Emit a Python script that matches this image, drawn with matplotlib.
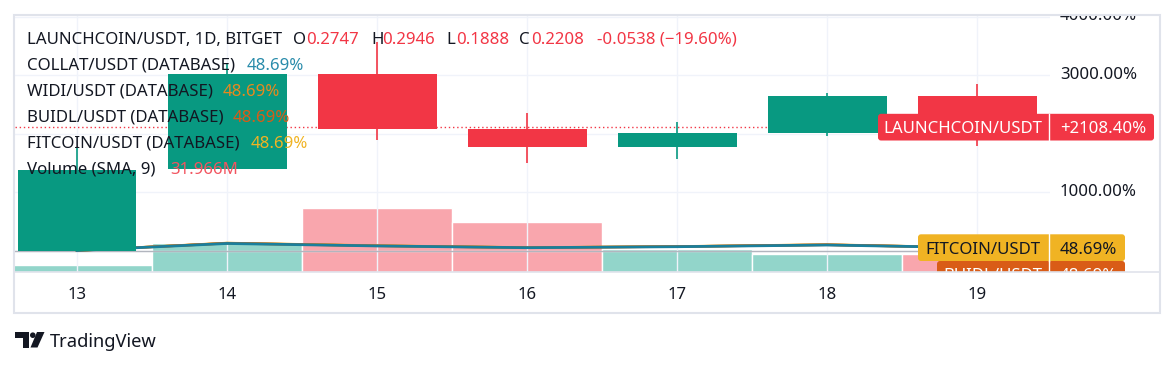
import matplotlib
matplotlib.use("Agg")
import matplotlib.pyplot as plt
from matplotlib.patches import Rectangle, FancyBboxPatch, Polygon, Circle

# ---------------- data ----------------
days = [13, 14, 15, 16, 17, 18, 19]
day_labels = ["13", "14", "15", "16", "17", "18", "19"]
# LAUNCHCOIN/USDT in percent (comparison mode)
opens = [0, 1400, 3017, 2070, 1769, 2009, 2647]
highs = [1769, 3205, 3564, 2350, 2197, 2692, 2846]
lows = [0, 1400, 1889, 1496, 1564, 1957, 1788]
closes = [1380, 3017, 2070, 1769, 2009, 2647, 2108.40]
volumes_m = [8.1, 33.5, 74.0, 57.8, 26.6, 20.8, 20.8]
# comparison symbols (%)
collat = [0, 120, 78, 48, 65, 94, 48.69]
widi = [0, 126, 82, 50, 68, 99, 48.69]
buidl = [0, 124, 80, 49, 67, 97, 48.69]
fitcoin = [0, 128, 83, 51, 69, 101, 48.69]
price_ticks = [0, 1000, 2000, 3000, 4000]
# price-scale labels not hidden behind the last-value labels
price_labels_visible = [1000, 3000, 4000]

# ---------------- style ----------------
UP = "#089981"
DOWN = "#f23645"
UP_VOL = "#92d5ca"
DOWN_VOL = "#f9a6ad"
C_COLLAT = "#1a7f9c"
C_WIDI = "#e8891e"
C_BUIDL = "#d95c17"
C_FIT = "#f0b323"
TXT = "#131722"
GRID = "#f0f3fa"
BORDER = "#e0e3eb"
FONT = "Noto Sans"
FS = 12.1

plt.rcParams["font.family"] = [FONT, "DejaVu Sans"]

W, H = 1176, 367
fig = plt.figure(figsize=(W / 100, H / 100), dpi=100)


def fx(px):
    return px / W


def fy(py):
    return 1 - py / H


PANE_L, PANE_R, PANE_T, PANE_B = 15, 1050, 15, 272
X0_PX, DX_PX = 77, 150          # pixel of day 13, pixels per day
Y0_PX, PX_PER_PCT = 250.5, 0.0585  # pixel of 0 %, pixels per percent


def x_of_px(px):
    return days[0] + (px - X0_PX) / DX_PX


def y_of_px(py):
    return (Y0_PX - py) / PX_PER_PCT


ax = fig.add_axes([fx(PANE_L), fy(PANE_B), fx(PANE_R) - fx(PANE_L), fy(PANE_T) - fy(PANE_B)])
axv = ax.twinx()
ax.set_zorder(axv.get_zorder() + 1)
ax.patch.set_visible(False)

ax.set_xlim(x_of_px(PANE_L), x_of_px(PANE_R))
ax.set_ylim(y_of_px(PANE_B), y_of_px(PANE_T))

# volume
vcols = [UP_VOL if c >= o else DOWN_VOL for o, c in zip(opens, closes)]
axv.bar(days, volumes_m, width=1.0, color=vcols, edgecolor="white", linewidth=1.0, zorder=2)
axv.set_ylim(0, 297)
axv.set_yticks([])
for s in axv.spines.values():
    s.set_visible(False)

# grid
ax.set_xticks(days)
ax.set_xticklabels(day_labels, fontsize=FS, color=TXT, fontweight="semibold")
ax.set_yticks(price_ticks)
ax.set_yticklabels([])
ax.tick_params(axis="both", length=0)
ax.tick_params(axis="x", pad=11)
ax.grid(True, color=GRID, linewidth=1.0, zorder=0)
ax.set_axisbelow(True)
for s in ax.spines.values():
    s.set_visible(False)

# zero line
ax.axhline(0, color="#b2b5be", linewidth=1.0, zorder=1)

# comparison lines
ax.plot(days, fitcoin, color=C_FIT, linewidth=1.8, zorder=3)
ax.plot(days, widi, color=C_WIDI, linewidth=1.8, zorder=3)
ax.plot(days, buidl, color=C_BUIDL, linewidth=1.8, zorder=3)
ax.plot(days, collat, color=C_COLLAT, linewidth=2.0, zorder=3)

# candles
ccols = [UP if c >= o else DOWN for o, c in zip(opens, closes)]
ax.vlines(days, lows, highs, colors=ccols, linewidth=1.2, zorder=4)
ax.bar(days, [c - o for o, c in zip(opens, closes)], bottom=opens,
       width=119 / DX_PX, color=ccols, linewidth=0, zorder=5)

# last price dotted line
ax.axhline(closes[-1], color=DOWN, linewidth=1.0, linestyle=(0, (1, 2)), zorder=3)

# ---------------- overlay (pane + price scale) ----------------
ov = fig.add_axes([fx(PANE_L), fy(PANE_B), fx(1160) - fx(PANE_L), fy(PANE_T) - fy(PANE_B)])
ov.set_xlim(PANE_L, 1160)
ov.set_ylim(y_of_px(PANE_B), y_of_px(PANE_T))
ov.axis("off")
ov.patch.set_visible(False)
ov.set_zorder(ax.get_zorder() + 2)

for v in price_labels_visible:
    ov.text(1137, v, f"{v:.2f}%", ha="right", va="center", fontsize=FS,
            color=TXT, clip_on=True, zorder=1)

ASPECT = 1 / PX_PER_PCT


def price_label(value, x_left, name, val_txt, bg, fg, name_cx, val_cx, shift_px=0.0, x_right=None):
    half = 13.35 / PX_PER_PCT
    yc = value - shift_px / PX_PER_PCT
    box = FancyBboxPatch((x_left, yc - half), x_right - x_left, 2 * half,
                         boxstyle="round,pad=0,rounding_size=3", mutation_aspect=ASPECT,
                         facecolor=bg, edgecolor="none", zorder=5, clip_on=True)
    ov.add_patch(box)
    ov.plot([1049, 1049], [yc - half, yc + half], color="white", linewidth=1.0, zorder=6, clip_on=True)
    ov.text(name_cx, yc, name, ha="center", va="center_baseline", fontsize=FS, color=fg,
            zorder=7, clip_on=True)
    ov.text(val_cx, yc, val_txt, ha="center", va="center_baseline", fontsize=FS, color=fg,
            zorder=7, clip_on=True)


price_label(closes[-1], 878, "LAUNCHCOIN/USDT", f"+{closes[-1]:.2f}%", DOWN, "white", 963, 1103, x_right=1154)
price_label(buidl[-1], 937, "BUIDL/USDT", f"{buidl[-1]:.2f}%", C_BUIDL, "white", 993, 1088, shift_px=26.7, x_right=1125)
price_label(fitcoin[-1], 918, "FITCOIN/USDT", f"{fitcoin[-1]:.2f}%", C_FIT, TXT, 983, 1088, x_right=1125)

# ---------------- pixel overlay (legend, frame, logo) ----------------
px = fig.add_axes([0, 0, 1, 1])
px.set_xlim(0, W)
px.set_ylim(H, 0)
px.axis("off")
px.patch.set_visible(False)
px.set_zorder(ov.get_zorder() + 1)

px.add_patch(Rectangle((14, 15), 1160 - 14, 313 - 15, fill=False, edgecolor=BORDER, linewidth=1.5))
px.plot([14, 1160], [272, 272], color=BORDER, linewidth=1.2)


def t(x, y, s, color=TXT, size=FS, **kw):
    px.text(x, y, s, ha="left", va="center_baseline", fontsize=size, color=color, **kw)


t(27, 38, "LAUNCHCOIN/USDT, 1D, BITGET")
t(293, 38, "O")
t(306, 38, "0.2747", DOWN)
t(371, 38, "H")
t(382, 38, "0.2946", DOWN)
t(446, 38, "L")
t(456, 38, "0.1888", DOWN)
t(519, 38, "C")
t(531, 38, "0.2208", DOWN)
t(597, 38, "-0.0538 (\u221219.60%)", DOWN)

t(27, 63.5, "COLLAT/USDT (DATABASE)")
t(247, 63.5, f"{collat[-1]:.2f}%", "#2a8cab")
t(27, 89.5, "WIDI/USDT (DATABASE)")
t(223, 89.5, f"{widi[-1]:.2f}%", C_WIDI)
t(27, 115.5, "BUIDL/USDT (DATABASE)")
t(233, 115.5, f"{buidl[-1]:.2f}%", C_BUIDL)
t(27, 141.5, "FITCOIN/USDT (DATABASE)")
t(251, 141.5, f"{fitcoin[-1]:.2f}%", C_FIT)
t(27, 167.5, "Volume (SMA, 9)")
t(170, 167.5, "31.966M", "#f25560")

# TradingView logo
LOGO = "#131722"
px.add_patch(Polygon([(15, 332), (29, 332), (29, 347.5), (22.5, 347.5), (22.5, 338), (15, 338)],
                     closed=True, facecolor=LOGO, edgecolor="none"))
px.add_patch(Circle((32.8, 335.2), 2.8, facecolor=LOGO, edgecolor="none"))
px.add_patch(Polygon([(37, 332), (44.5, 332), (37.5, 347.5), (30.5, 347.5)],
                     closed=True, facecolor=LOGO, edgecolor="none"))
px.text(50, 340, "TradingView", ha="left", va="center_baseline", fontsize=13.2, color=LOGO)

fig.savefig("out.png", dpi=100, facecolor="white")
